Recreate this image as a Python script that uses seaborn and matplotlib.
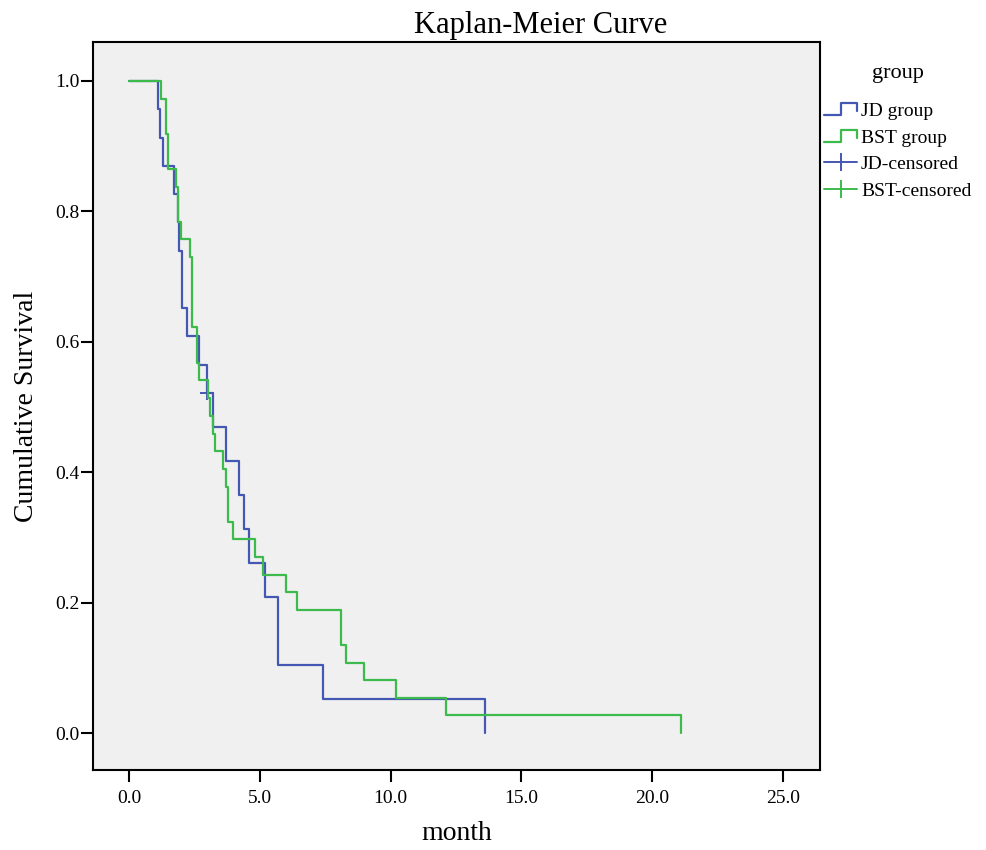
import matplotlib
matplotlib.use("Agg")
import matplotlib.pyplot as plt
import seaborn as sns
import pandas as pd
from matplotlib.lines import Line2D
from matplotlib.legend_handler import HandlerBase

# Kaplan-Meier step values
jd_time = [0, 1.12, 1.19, 1.29, 1.72, 1.88, 1.92, 2.01, 2.20, 2.68, 2.99,
           3.20, 3.71, 4.20, 4.41, 4.60, 5.20, 5.71, 7.40, 13.61]
jd_surv = [1.0, 0.957, 0.913, 0.870, 0.826, 0.783, 0.739, 0.652, 0.609, 0.565, 0.522,
           0.470, 0.417, 0.365, 0.313, 0.261, 0.209, 0.104, 0.052, 0.0]

bst_time = [0, 1.21, 1.41, 1.50, 1.80, 1.88, 1.98, 2.33, 2.40, 2.60, 2.69,
            3.01, 3.10, 3.20, 3.29, 3.60, 3.70, 3.79, 3.98, 4.82, 5.11,
            6.00, 6.41, 8.09, 8.30, 9.00, 10.20, 12.12, 21.10]
bst_surv = [1.0, 0.973, 0.919, 0.865, 0.838, 0.784, 0.757, 0.730, 0.622, 0.568, 0.541,
            0.514, 0.486, 0.459, 0.432, 0.405, 0.378, 0.324, 0.297, 0.270, 0.243,
            0.216, 0.189, 0.135, 0.108, 0.081, 0.054, 0.027, 0.0]

# censored observation (JD group only)
jd_cens_time = [2.97]
jd_cens_surv = [0.522]

x_ticks = [0, 5, 10, 15, 20, 25]
y_ticks = [0.0, 0.2, 0.4, 0.6, 0.8, 1.0]

blue = "#4457b3"
green = "#3dba4c"
serif = "Liberation Serif"

sns.set_style("white")
plt.rcParams["font.family"] = serif
plt.rcParams["text.color"] = "black"
plt.rcParams["axes.labelcolor"] = "black"
plt.rcParams["xtick.color"] = "black"
plt.rcParams["ytick.color"] = "black"

jd = pd.DataFrame({"month": jd_time, "surv": jd_surv})
bst = pd.DataFrame({"month": bst_time, "surv": bst_surv})
cens = pd.DataFrame({"month": jd_cens_time, "surv": jd_cens_surv})

fig = plt.figure(figsize=(9.86, 8.5), dpi=100)
ax = fig.add_axes([93 / 986, 1 - 770 / 850, (820 - 93) / 986, (770 - 42) / 850])
ax.set_facecolor("#f0f0f0")

sns.lineplot(data=jd, x="month", y="surv", ax=ax, color=blue, lw=1.6,
             drawstyle="steps-post", estimator=None, sort=False)
sns.lineplot(data=bst, x="month", y="surv", ax=ax, color=green, lw=1.6,
             drawstyle="steps-post", estimator=None, sort=False)
sns.scatterplot(data=cens, x="month", y="surv", ax=ax, color=blue, marker="+",
                s=90, linewidth=1.4)

ax.set_xlim(-1.376, 26.41)
ax.set_ylim(-0.0567, 1.0598)
ax.set_xticks(x_ticks)
ax.set_xticklabels([f"{t:.1f}" for t in x_ticks])
ax.set_yticks(y_ticks)
ax.set_yticklabels([f"{t:.1f}" for t in y_ticks])
ax.tick_params(axis="both", direction="out", length=8.5, width=1.5,
               labelsize=14, bottom=True, left=True)
ax.tick_params(axis="x", pad=6)
ax.tick_params(axis="y", pad=1)
for sp in ax.spines.values():
    sp.set_color("black")
    sp.set_linewidth(1.5)

ax.set_xlabel("")
ax.set_ylabel("Cumulative Survival", fontsize=20, labelpad=12)
fig.text(457 / 986, 1 - 840 / 850, "month", fontsize=20, ha="center", va="baseline")
fig.text(541 / 986, 1 - 26 / 850, "Kaplan-Meier Curve", fontsize=22,
         ha="center", va="center")


class StepHandler(HandlerBase):
    def create_artists(self, legend, orig_handle, xdescent, ydescent,
                       width, height, fontsize, trans):
        xs = [0, 0.5 * width, 0.5 * width, width, width]
        ys = [0.05 * height, 0.05 * height, 0.95 * height, 0.95 * height, 0.35 * height]
        line = Line2D([x - xdescent for x in xs], [y - ydescent for y in ys],
                      color=orig_handle.get_color(), lw=1.6)
        line.set_transform(trans)
        return [line]


h_jd = Line2D([], [], color=blue)
h_bst = Line2D([], [], color=green)
h_jdc = Line2D([], [], color=blue, lw=1.4, marker="|", markersize=13, markeredgewidth=1.4)
h_bstc = Line2D([], [], color=green, lw=1.4, marker="|", markersize=13, markeredgewidth=1.4)

leg = fig.legend([h_jd, h_bst, h_jdc, h_bstc],
                 ["JD group", "BST group", "JD-censored", "BST-censored"],
                 handler_map={h_jd: StepHandler(), h_bst: StepHandler()},
                 loc="upper left", bbox_to_anchor=(824 / 986, 1 - 64 / 850),
                 frameon=False, fontsize=14, title="group", title_fontsize=16,
                 handlelength=1.7, handletextpad=0.2, labelspacing=0.46,
                 borderaxespad=0, borderpad=0, numpoints=1)
leg._legend_box.sep = 14

fig.savefig("out.png", dpi=100, facecolor="white")
